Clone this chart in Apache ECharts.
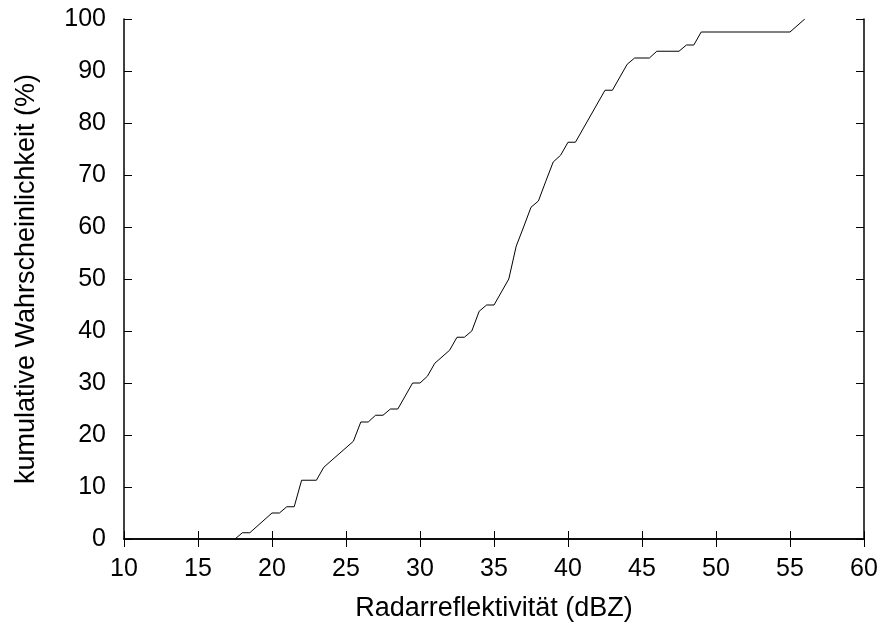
<!DOCTYPE html>
<html><head><meta charset="utf-8">
<script src="https://cdn.jsdelivr.net/npm/echarts@6/dist/echarts.min.js"></script>
<style>html,body{margin:0;padding:0;background:#fff}#c{width:885px;height:629px}</style>
</head><body><div id="c"></div>
<script>
const xValues = [17.5, 18.0, 18.5, 20.0, 20.5, 21.0, 21.5, 22.0, 23.0, 23.5, 25.5, 26.0, 26.5, 27.0, 27.5, 28.0, 28.5, 29.5, 30.0, 30.5, 31.0, 32.0, 32.5, 33.0, 33.5, 34.0, 34.5, 35.0, 36.0, 36.5, 37.0, 37.5, 38.0, 38.5, 39.0, 39.5, 40.0, 40.5, 42.5, 43.0, 44.0, 44.5, 45.5, 46.0, 47.5, 48.0, 48.5, 49.0, 55.0, 56.0];
const yValues = [0, 1.2, 1.2, 5.0, 5.0, 6.2, 6.2, 11.3, 11.3, 13.8, 18.8, 22.5, 22.5, 23.8, 23.8, 25.0, 25.0, 30.0, 30.0, 31.3, 33.8, 36.3, 38.8, 38.8, 40.0, 43.8, 45.0, 45.0, 50.0, 56.3, 60.0, 63.8, 65.0, 68.8, 72.5, 73.8, 76.3, 76.3, 86.3, 86.3, 91.3, 92.5, 92.5, 93.8, 93.8, 95.0, 95.0, 97.5, 97.5, 100];
const xTicks = [10, 15, 20, 25, 30, 35, 40, 45, 50, 55, 60];
const yTicks = [0, 10, 20, 30, 40, 50, 60, 70, 80, 90, 100];
const xTitle = 'Radarreflektivität (dBZ)';
const yTitle = 'kumulative Wahrscheinlichkeit (%)';

const font = 'Liberation Sans, Arial, sans-serif';
const chart = echarts.init(document.getElementById('c'), null, {renderer: 'canvas'});
const axisLine = {show: true, lineStyle: {color: '#000', width: 1.5}};
const tick = {show: true, inside: true, length: 8, lineStyle: {color: '#000', width: 1}};
chart.setOption({
  animation: false,
  backgroundColor: '#fff',
  grid: {left: 124, right: 21, top: 19, bottom: 90, containLabel: false},
  xAxis: [{
    type: 'value', min: xTicks[0], max: xTicks[xTicks.length-1], interval: 5,
    axisLine: axisLine, axisTick: tick, splitLine: {show: false},
    axisLabel: {color: '#000', fontSize: 25, fontFamily: font, margin: 18},
    name: xTitle, nameLocation: 'middle', nameGap: 56,
    nameTextStyle: {color: '#000', fontSize: 27, fontFamily: font}
  }, {
    type: 'value', position: 'top', min: xTicks[0], max: xTicks[xTicks.length-1], interval: 5,
    axisLine: axisLine, axisTick: tick, axisLabel: {show: false}, splitLine: {show: false}
  }],
  yAxis: [{
    type: 'value', min: yTicks[0], max: yTicks[yTicks.length-1], interval: 10,
    axisLine: axisLine, axisTick: tick, splitLine: {show: false},
    axisLabel: {color: '#000', fontSize: 25, fontFamily: font, margin: 18},
    name: yTitle, nameLocation: 'middle', nameGap: 84, nameRotate: 90,
    nameTextStyle: {color: '#000', fontSize: 27, fontFamily: font}
  }, {
    type: 'value', position: 'right', min: yTicks[0], max: yTicks[yTicks.length-1], interval: 10,
    axisLine: axisLine, axisTick: tick, axisLabel: {show: false}, splitLine: {show: false}
  }],
  series: [{
    type: 'line', xAxisIndex: 0, yAxisIndex: 0,
    data: xValues.map((x, i) => [x, yValues[i]]),
    showSymbol: false, symbol: 'none',
    lineStyle: {color: '#000', width: 1}
  }]
});
</script></body></html>
